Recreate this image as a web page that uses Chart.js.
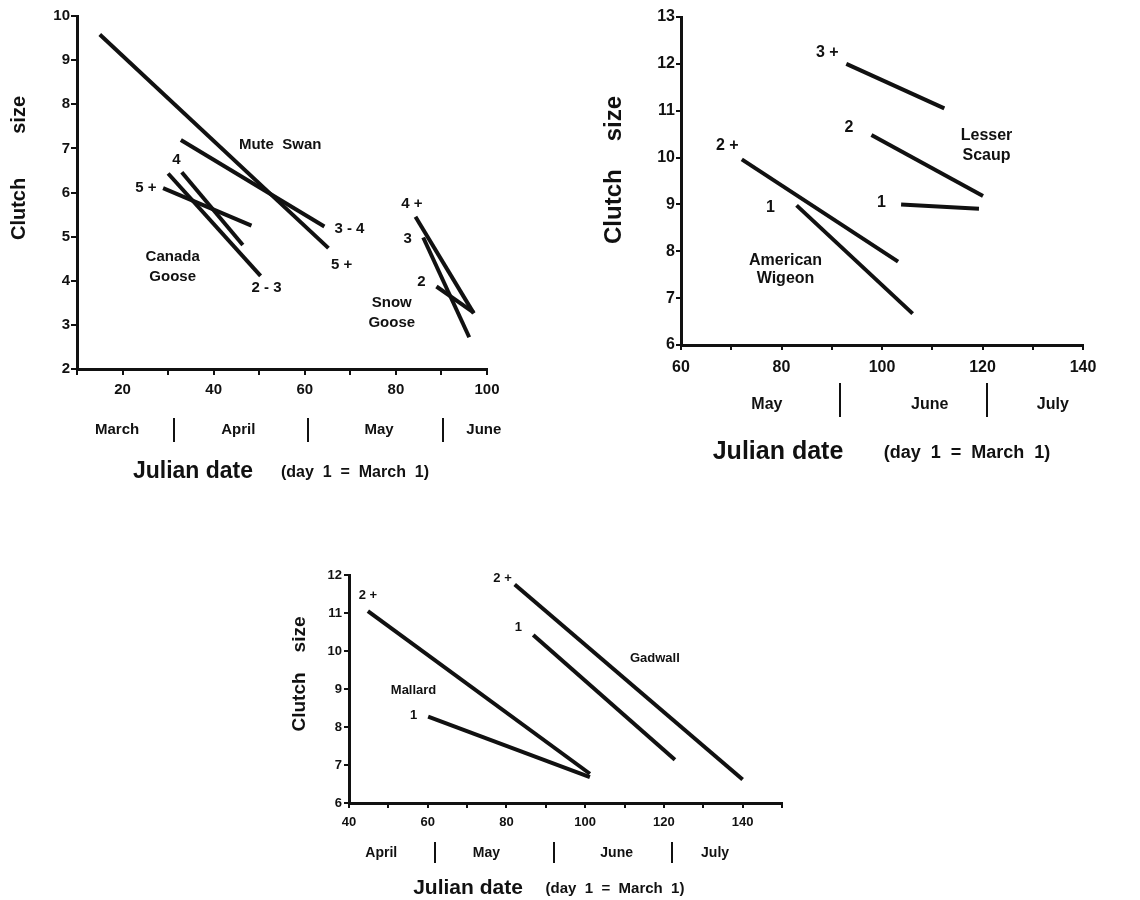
<!DOCTYPE html>
<html>
<head>
<meta charset="utf-8">
<script src="https://cdn.jsdelivr.net/npm/chart.js@4"></script>
<style>
  body { margin: 0; background: #fff; }
  #wrap { position: relative; width: 1140px; height: 900px; }
  canvas { position: absolute; }
</style>
</head>
<body>
<div id="wrap">
  <canvas id="geese" width="570" height="500" style="left:0;top:0"></canvas>
  <canvas id="scaup" width="570" height="480" style="left:570px;top:0"></canvas>
  <canvas id="ducks" width="640" height="360" style="left:250px;top:540px"></canvas>
</div>
<script>
// Geese and swans (x = Julian date, y = clutch size), start and end of each fitted line
const swan5plusX = [15.0, 65.2];   const swan5plusY = [9.58, 4.74];
const swan34X = [32.8, 64.3];      const swan34Y = [7.19, 5.23];
const canada5plusX = [28.9, 48.3]; const canada5plusY = [6.10, 5.25];
const canada4X = [33.0, 46.4];     const canada4Y = [6.46, 4.81];
const canada23X = [30.0, 50.3];    const canada23Y = [6.43, 4.11];
const snow4plusX = [84.3, 97.1];   const snow4plusY = [5.45, 3.26];
const snow3X = [86.0, 96.1];       const snow3Y = [4.98, 2.72];
const snow2X = [88.9, 97.1];       const snow2Y = [3.87, 3.28];

// Lesser Scaup and American Wigeon
const scaup3plusX = [92.9, 112.4]; const scaup3plusY = [12.0, 11.05];
const scaup2X = [97.9, 120.1];     const scaup2Y = [10.48, 9.18];
const scaup1X = [103.8, 119.3];    const scaup1Y = [9.0, 8.91];
const wigeon2plusX = [72.1, 103.2]; const wigeon2plusY = [9.96, 7.78];
const wigeon1X = [83.0, 106.1];    const wigeon1Y = [8.98, 6.67];

// Mallard and Gadwall
const mallard2plusX = [44.8, 101.2]; const mallard2plusY = [11.05, 6.77];
const mallard1X = [60.1, 101.2];     const mallard1Y = [8.27, 6.68];
const gadwall2plusX = [82.1, 140.0]; const gadwall2plusY = [11.75, 6.62];
const gadwall1X = [86.8, 122.8];     const gadwall1Y = [10.42, 7.14];

// month rows under the x axes
const months1 = ['March', 'April', 'May', 'June'];
const monthMid1 = [18.8, 45.4, 76.3, 99.3];
const monthBreak1 = [31.3, 60.8, 90.3];
const months2 = ['May', 'June', 'July'];
const monthMid2 = [77.1, 109.5, 134];
const monthBreak2 = [91.6, 120.8];
const months3 = ['April', 'May', 'June', 'July'];
const monthMid3 = [48.2, 74.9, 108, 133];
const monthBreak3 = [61.8, 92, 122];

const FONT = '"Liberation Sans", Arial, Helvetica, sans-serif';
const INK = '#111';
Chart.defaults.font.family = FONT;
Chart.defaults.font.weight = 'bold';
Chart.defaults.color = INK;

function line(xs, ys) {
  return {
    data: xs.map((x, i) => ({ x: x, y: ys[i] })),
    showLine: true,
    borderColor: INK,
    borderWidth: 4,
    borderCapStyle: 'butt',
    pointRadius: 0,
    fill: false
  };
}

// text labels, month row and axis titles
const overlay = {
  id: 'overlay',
  afterDraw(chart, args, o) {
    const { ctx, chartArea } = chart;
    const xs = chart.scales.x, ys = chart.scales.y;
    ctx.save();
    ctx.fillStyle = INK;
    ctx.strokeStyle = INK;
    ctx.textAlign = 'center';
    ctx.textBaseline = 'middle';

    ctx.font = 'bold ' + o.labelSize + 'px ' + FONT;
    o.labels.forEach(l => {
      const px = xs.getPixelForValue(l.x), py = ys.getPixelForValue(l.y);
      l.text.split('\n').forEach((t, i) => ctx.fillText(t, px, py + i * (l.lh || 20)));
    });

    ctx.font = 'bold ' + o.monthSize + 'px ' + FONT;
    o.months.forEach((m, i) => ctx.fillText(m, xs.getPixelForValue(o.monthMid[i]), chartArea.bottom + o.monthY));
    ctx.lineWidth = 2;
    o.monthBreak.forEach(b => {
      const px = Math.round(xs.getPixelForValue(b));
      ctx.beginPath();
      ctx.moveTo(px, chartArea.bottom + o.breakY[0]);
      ctx.lineTo(px, chartArea.bottom + o.breakY[1]);
      ctx.stroke();
    });

    // x title in two sizes
    ctx.font = 'bold ' + o.titleSize + 'px ' + FONT;
    ctx.fillText('Julian date', o.titleX[0], chartArea.bottom + o.titleY);
    ctx.font = 'bold ' + o.subSize + 'px ' + FONT;
    ctx.fillText('(day  1  =  March  1)', o.titleX[1], chartArea.bottom + o.titleY + 1);

    // y title, rotated
    ctx.translate(o.yTitle[0], o.yTitle[1]);
    ctx.rotate(-Math.PI / 2);
    ctx.font = 'bold ' + o.yTitleSize + 'px ' + FONT;
    const w1 = ctx.measureText('Clutch').width, w2 = ctx.measureText('size').width;
    const start = -(w1 + w2 + o.yGap) / 2;
    ctx.textAlign = 'left';
    ctx.fillText('Clutch', start, 0);
    ctx.fillText('size', start + w1 + o.yGap, 0);
    ctx.restore();
  }
};

function makeChart(id, datasets, ax, layout, extra) {
  return new Chart(document.getElementById(id), {
    type: 'scatter',
    data: { datasets: datasets },
    plugins: [overlay],
    options: {
      responsive: false,
      animation: false,
      layout: { padding: layout.padding },
      plugins: { legend: { display: false }, tooltip: { enabled: false }, overlay: extra },
      scales: {
        x: {
          type: 'linear', min: ax.xMin, max: ax.xMax,
          afterFit: s => { s.height = layout.xH; },
          border: { color: INK, width: 3 },
          grid: { drawOnChartArea: false, drawTicks: true, tickLength: layout.tick, color: INK, lineWidth: 2 },
          ticks: {
            stepSize: 10, autoSkip: false, maxRotation: 0, padding: layout.xPad,
            font: { size: layout.tickSize, weight: 'bold' },
            callback: v => (v % 20 === 0 && v <= ax.xLabelMax) ? String(v) : ''
          }
        },
        y: {
          type: 'linear', min: ax.yMin, max: ax.yMax,
          afterFit: s => { s.width = layout.yW; },
          border: { color: INK, width: 3 },
          grid: { drawOnChartArea: false, drawTicks: true, tickLength: layout.tick, color: INK, lineWidth: 2 },
          ticks: { stepSize: 1, padding: layout.yPad, font: { size: layout.tickSize, weight: 'bold' } }
        }
      }
    }
  });
}

// top left: Mute Swan, Canada Goose, Snow Goose
makeChart('geese',
  [line(swan5plusX, swan5plusY), line(swan34X, swan34Y),
   line(canada5plusX, canada5plusY), line(canada4X, canada4Y), line(canada23X, canada23Y),
   line(snow4plusX, snow4plusY), line(snow3X, snow3Y), line(snow2X, snow2Y)],
  { xMin: 10, xMax: 100, xLabelMax: 100, yMin: 2, yMax: 10 },
  { padding: { left: 0, top: 16, right: 83, bottom: 101 }, xH: 30, yW: 77, tick: 6, xPad: 6, yPad: 1, tickSize: 15 },
  {
    labelSize: 15,
    labels: [
      { text: 'Mute  Swan', x: 54.6, y: 7.08 },
      { text: '3 - 4', x: 69.8, y: 5.17 },
      { text: '5 +', x: 68.1, y: 4.37 },
      { text: '4', x: 31.8, y: 6.74 },
      { text: '5 +', x: 25.1, y: 6.10 },
      { text: 'Canada\nGoose', x: 31.0, y: 4.55, lh: 20 },
      { text: '2 - 3', x: 51.6, y: 3.83 },
      { text: '4 +', x: 83.5, y: 5.74 },
      { text: '3', x: 82.6, y: 4.94 },
      { text: '2', x: 85.6, y: 3.98 },
      { text: 'Snow\nGoose', x: 79.1, y: 3.49, lh: 20 }
    ],
    months: months1, monthMid: monthMid1, monthBreak: monthBreak1,
    monthSize: 15, monthY: 61, breakY: [49, 73],
    titleSize: 23, subSize: 16, titleX: [193, 355], titleY: 103,
    yTitle: [19, 168], yTitleSize: 20, yGap: 44
  });

// top right: Lesser Scaup, American Wigeon
makeChart('scaup',
  [line(scaup3plusX, scaup3plusY), line(scaup2X, scaup2Y), line(scaup1X, scaup1Y),
   line(wigeon2plusX, wigeon2plusY), line(wigeon1X, wigeon1Y)],
  { xMin: 60, xMax: 140, xLabelMax: 140, yMin: 6, yMax: 13 },
  { padding: { left: 0, top: 17, right: 57, bottom: 105 }, xH: 30, yW: 111, tick: 5, xPad: 8, yPad: 1, tickSize: 16 },
  {
    labelSize: 16,
    labels: [
      { text: '3 +', x: 89.1, y: 12.25 },
      { text: '2', x: 93.4, y: 10.64 },
      { text: 'Lesser\nScaup', x: 120.8, y: 10.47, lh: 20 },
      { text: '1', x: 99.9, y: 9.04 },
      { text: '2 +', x: 69.2, y: 10.25 },
      { text: '1', x: 77.8, y: 8.93 },
      { text: 'American\nWigeon', x: 80.8, y: 7.8, lh: 18 }
    ],
    months: months2, monthMid: monthMid2, monthBreak: monthBreak2,
    monthSize: 16, monthY: 60, breakY: [38, 72],
    titleSize: 25, subSize: 18, titleX: [208, 397], titleY: 107,
    yTitle: [44, 170], yTitleSize: 24, yGap: 28
  });

// bottom: Mallard, Gadwall
makeChart('ducks',
  [line(mallard2plusX, mallard2plusY), line(mallard1X, mallard1Y),
   line(gadwall2plusX, gadwall2plusY), line(gadwall1X, gadwall1Y)],
  { xMin: 40, xMax: 150, xLabelMax: 140, yMin: 6, yMax: 12 },
  { padding: { left: 0, top: 35, right: 108, bottom: 71 }, xH: 26, yW: 99, tick: 5, xPad: 7, yPad: 2, tickSize: 13 },
  {
    labelSize: 13,
    labels: [
      { text: '2 +', x: 44.8, y: 11.47 },
      { text: 'Mallard', x: 56.4, y: 8.96 },
      { text: '1', x: 56.4, y: 8.30 },
      { text: '2 +', x: 79.0, y: 11.9 },
      { text: '1', x: 83.0, y: 10.62 },
      { text: 'Gadwall', x: 117.7, y: 9.8 }
    ],
    months: months3, monthMid: monthMid3, monthBreak: monthBreak3,
    monthSize: 14, monthY: 50, breakY: [39, 60],
    titleSize: 21, subSize: 15, titleX: [218, 365], titleY: 85,
    yTitle: [50, 134], yTitleSize: 19, yGap: 20
  });
</script>
</body>
</html>
